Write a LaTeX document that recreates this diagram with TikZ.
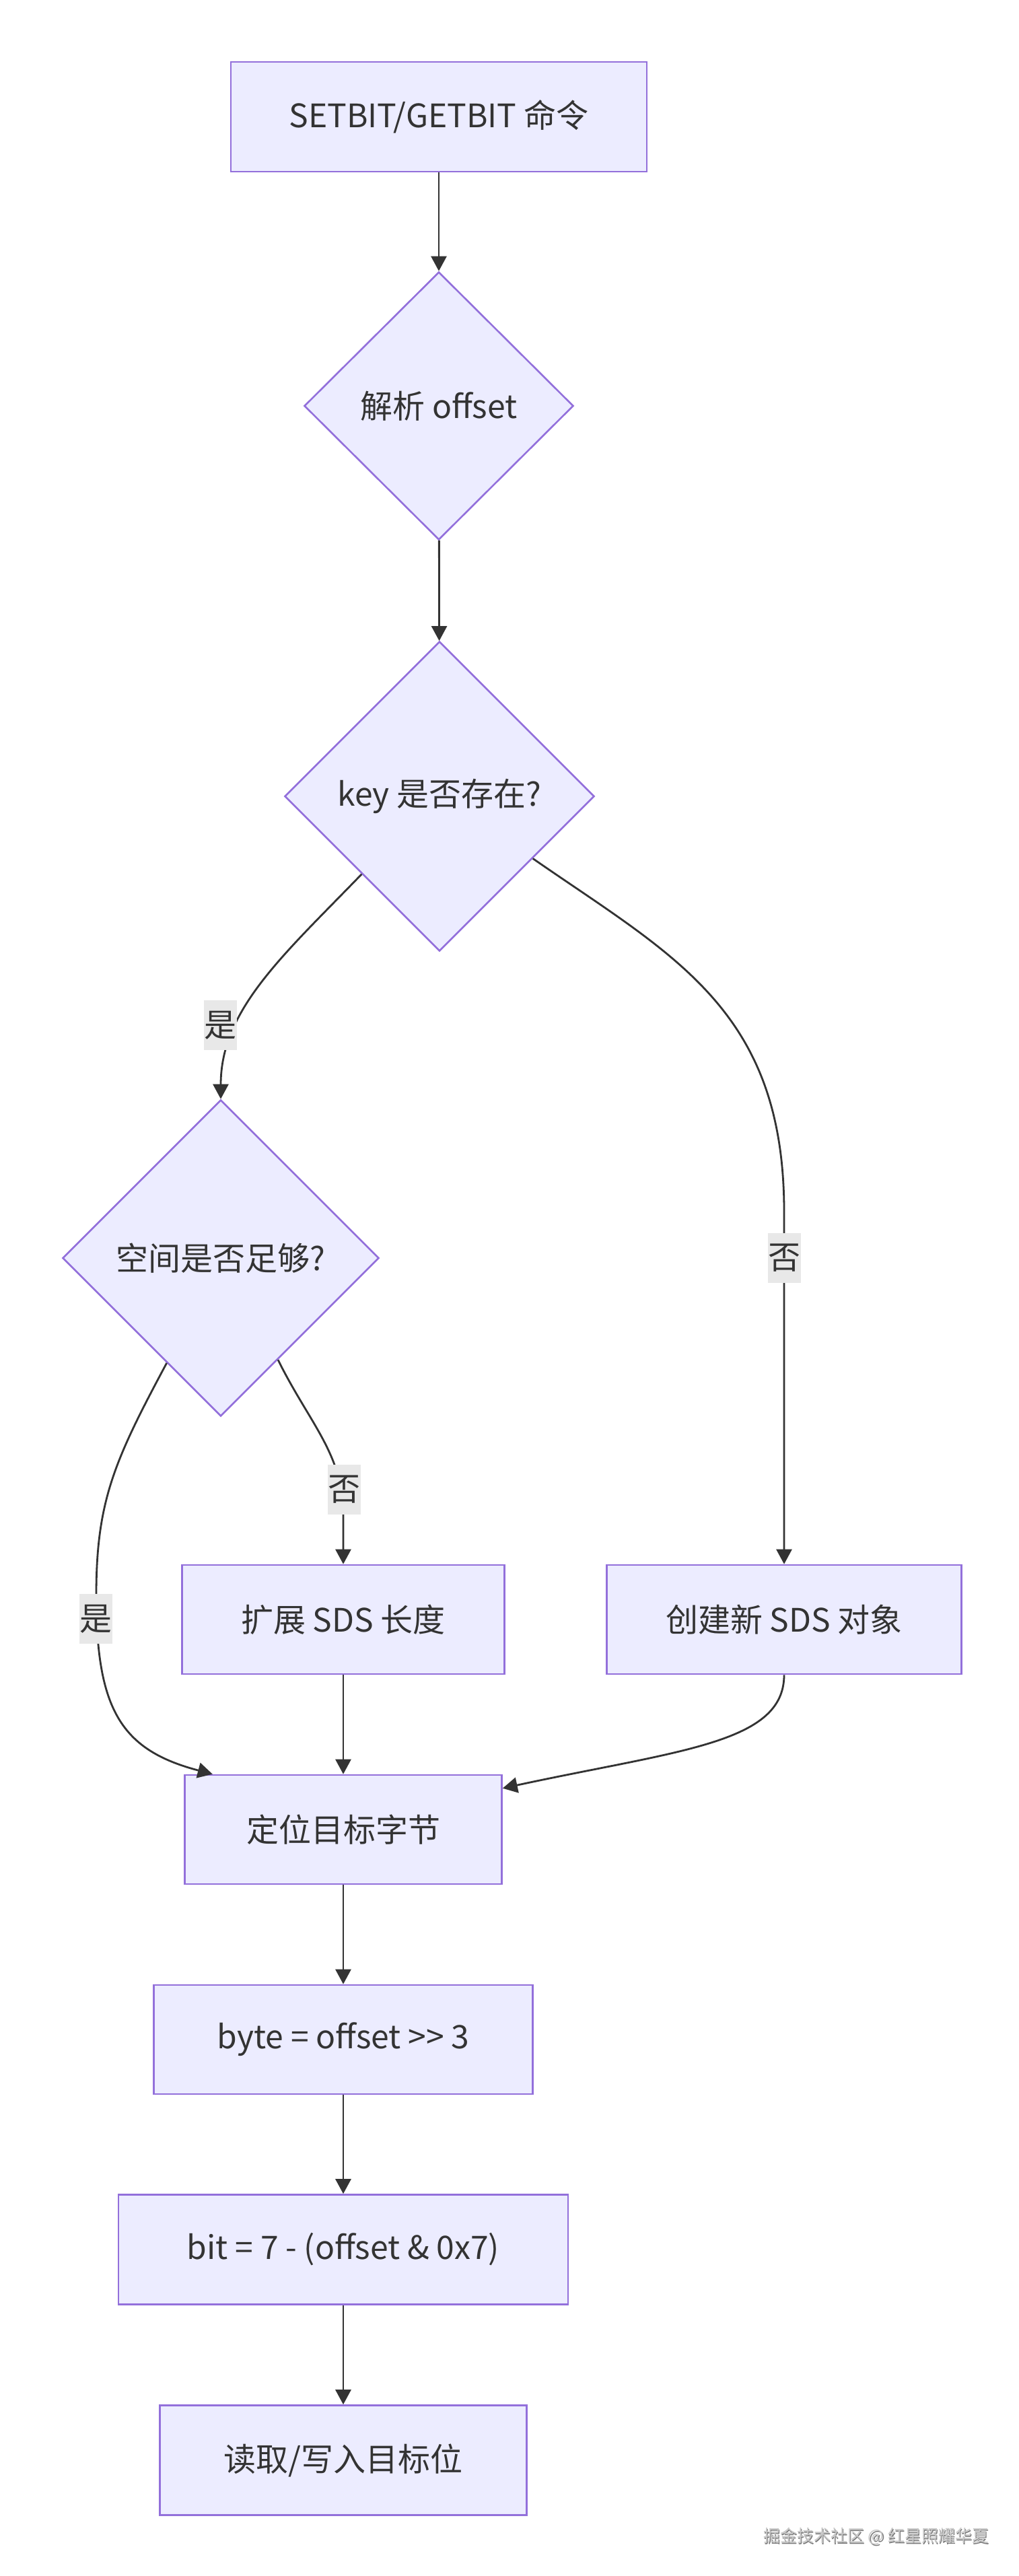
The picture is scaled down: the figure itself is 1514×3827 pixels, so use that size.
\documentclass[tikz,border=0pt]{standalone}
\usepackage{fontspec}
\setmainfont{Noto Sans CJK SC}
\usetikzlibrary{shapes.geometric,arrows.meta,calc}
\definecolor{nodefill}{HTML}{ECECFF}
\definecolor{nodeline}{HTML}{9370DB}
\definecolor{edgecol}{HTML}{333333}
\definecolor{txtcol}{HTML}{333333}
\definecolor{labfill}{HTML}{E8E8E8}
\definecolor{wmcol}{HTML}{C8C8C8}
\definecolor{wmshade}{HTML}{7A7A7A}
\newcommand\mainfs{\fontsize{24pt}{28pt}\selectfont}
\newcommand\wmfs{\fontsize{12.5pt}{15pt}\selectfont}
\tikzset{
  box/.style={rectangle, draw=nodeline, fill=nodefill, line width=1.3pt, text=txtcol, font=\mainfs, inner sep=0pt},
  dia/.style={diamond, aspect=1, draw=nodeline, fill=nodefill, line width=1.3pt, text=txtcol, font=\mainfs, inner sep=0pt},
  arr/.style={draw=edgecol, line width=1.4pt, -{Triangle[length=11pt,width=11.5pt]}},
  lab/.style={fill=labfill, text=txtcol, font=\mainfs, inner sep=0pt, minimum width=24.5pt, minimum height=37pt},
  wm/.style={font=\wmfs, inner sep=0pt, anchor=east}
}
\begin{document}
\begin{tikzpicture}[x=0.5pt,y=-0.5pt]
\useasboundingbox[fill=white] (0,0) rectangle (1514,3827);

% nodes
\node[box, minimum width=309pt, minimum height=81.5pt] (A) at (652,173.5) {SETBIT/GETBIT 命令};
\node[dia, minimum width=200pt, minimum height=199pt] (B) at (652,603) {解析 offset};
\node[dia, minimum width=230pt, minimum height=230pt] (C) at (653,1183) {key 是否存在?};
\node[dia, minimum width=235pt, minimum height=235pt] (D) at (328,1869) {空间是否足够?};
\node[box, minimum width=239.5pt, minimum height=81pt] (E) at (510,2406) {扩展 SDS 长度};
\node[box, minimum width=263.5pt, minimum height=81pt] (F) at (1165,2406) {创建新 SDS 对象};
\node[box, minimum width=235.5pt, minimum height=81pt] (G) at (510,2718) {定位目标字节};
\node[box, minimum width=281.5pt, minimum height=81pt] (H) at (510,3030) {byte = offset >{}> 3};
\node[box, minimum width=334pt, minimum height=81.5pt] (I) at (510,3342) {bit = 7 - (offset \& 0x7)};
\node[box, minimum width=272.5pt, minimum height=81.5pt] (J) at (510,3655) {读取/写入目标位};

% edges
\draw[arr] (A) -- (B);
\draw[arr] (B) -- (C);
\draw[arr] (C.south west) .. controls (420,1420) and (328,1500) .. (D.north);
\draw[arr] ($(C.east)!0.4!(C.south)$) .. controls (1000,1420) and (1165,1500) .. (1165,1800) -- (F.north);
\draw[arr] ($(D.west)!0.66!(D.south)$) .. controls (170,2170) and (143,2230) .. (143,2370)
           .. controls (143,2540) and (180,2600) .. ($(G.north west)!0.09!(G.north east)$);
\draw[arr] ($(D.east)!0.64!(D.south)$) .. controls (460,2115) and (510,2160) .. (510,2250) -- (E.north);
\draw[arr] (E) -- (G);
\draw[arr] (F.south) .. controls (1165,2590) and (1010,2600) .. ($(G.north east)+(0,21)$);
\draw[arr] (G) -- (H);
\draw[arr] (H) -- (I);
\draw[arr] (I) -- (J);

% edge labels
\node[lab] (L1) at (327,1523) {是};
\node[lab] (L2) at (1165,1869) {否};
\node[lab] (L3) at (511,2213) {否};
\node[lab] (L4) at (142,2405) {是};

% watermark
\node[wm, text=wmshade] (WMS) at (1471,3770) {掘金技术社区 @ 红星照耀华夏};
\node[wm, text=wmcol] (WM) at (1469.5,3768.5) {掘金技术社区 @ 红星照耀华夏};
\end{tikzpicture}
\end{document}
